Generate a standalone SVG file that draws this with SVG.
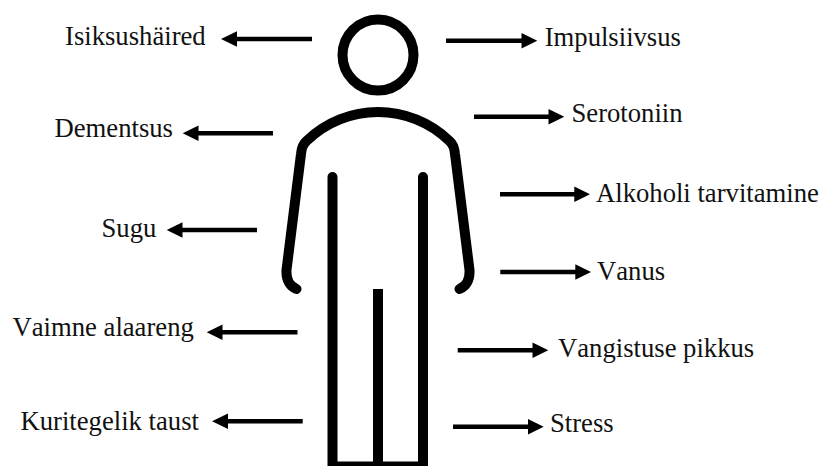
<svg xmlns="http://www.w3.org/2000/svg" width="822" height="466" viewBox="0 0 822 466">
<style>
.b{fill:none;stroke:#000;stroke-width:10;stroke-linecap:round;stroke-linejoin:round}
.c{fill:none;stroke:#000;stroke-width:4.500}
.h{fill:#000}
text{font-family:"Liberation Serif","Times New Roman",serif;font-size:26.67px;fill:#111}
.nk{font-kerning:none}
</style>
<rect width="822" height="466" fill="#fff"/>
<g id="figure">
<circle class="b" cx="378" cy="55" r="35.5"/>
<path class="b" d="M296.5 289C290 286 286 281 286.500 270L301 154C301.500 148 303 144 306.500 141C326 122 352 112 378 112C404 112 430 122 449.500 141C453 144 454.500 148 455 154L469.500 270C470 281 466 286 459.500 289"/>
<path class="b" d="M332.500 177V466M423 177V466"/>
<rect class="h" x="373" y="289" width="10" height="177"/>
<rect class="h" x="328" y="461.500" width="100" height="4.500"/>
</g>
<g id="connectors">
<g id="a1"><path class="c" d="M312 39H235"/><path class="h" d="M221 39L237 31.300V46.700Z"/></g>
<g id="a2"><path class="c" d="M273 133.300H196"/><path class="h" d="M182.700 133.300L198.500 125.600V141Z"/></g>
<g id="a3"><path class="c" d="M257 230H180"/><path class="h" d="M166.700 230L182.500 222.300V237.700Z"/></g>
<g id="a4"><path class="c" d="M297.500 332.300H220"/><path class="h" d="M206.700 332.300L222.500 324.600V340Z"/></g>
<g id="a5"><path class="c" d="M302.700 421.300H225"/><path class="h" d="M212 421.300L228 413.600V429Z"/></g>
<g id="a6"><path class="c" d="M446 40.700H524"/><path class="h" d="M537.300 40.700L521.500 33V48.400Z"/></g>
<g id="a7"><path class="c" d="M474 116.700H551"/><path class="h" d="M564.300 116.700L548.500 109V124.400Z"/></g>
<g id="a8"><path class="c" d="M500 194.300H577"/><path class="h" d="M590 194.300L574.300 186.600V202Z"/></g>
<g id="a9"><path class="c" d="M500.300 272H578"/><path class="h" d="M591 272L575.300 264.300V279.700Z"/></g>
<g id="a10"><path class="c" d="M457.700 350.300H535"/><path class="h" d="M548.300 350.300L532.500 342.600V358Z"/></g>
<g id="a11"><path class="c" d="M453 426.700H530"/><path class="h" d="M543.700 426.700L528 419V434.400Z"/></g>
</g>
<g id="n1"><text x="65" y="45">Isiksushäired</text></g>
<g id="n2"><text x="54.500" y="137">Dementsus</text></g>
<g id="n3"><text x="101.500" y="237">Sugu</text></g>
<g id="n4"><text class="nk" x="12.500" y="336">Vaimne alaareng</text></g>
<g id="n5"><text x="20.500" y="430">Kuritegelik taust</text></g>
<g id="n6"><text x="544.700" y="46">Impulsiivsus</text></g>
<g id="n7"><text x="571.500" y="122">Serotoniin</text></g>
<g id="n8"><text x="596" y="202">Alkoholi tarvitamine</text></g>
<g id="n9"><text class="nk" x="597" y="280">Vanus</text></g>
<g id="n10"><text class="nk" x="558" y="357">Vangistuse pikkus</text></g>
<g id="n11"><text x="550" y="432">Stress</text></g>
</svg>
